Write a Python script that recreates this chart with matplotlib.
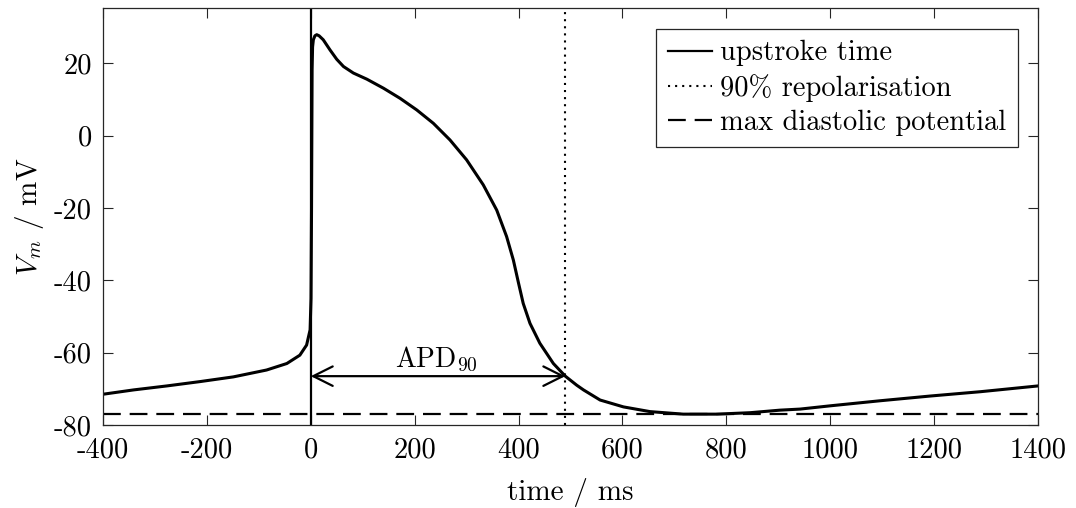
import matplotlib
matplotlib.use("Agg")
import matplotlib.pyplot as plt

plt.rcParams['font.family'] = ['cmr10', 'DejaVu Serif']
plt.rcParams['mathtext.fontset'] = 'cm'
plt.rcParams['axes.unicode_minus'] = False

# membrane potential (ms, mV)
time_ms = [-400, -341, -277, -213, -149, -85, -46, -21, -8, -1.3, 0.5, 1.5,
           2.6, 3.5, 5, 8, 11.5, 16, 24, 37, 50, 63, 82, 108, 140, 172, 204,
           236, 268, 300, 332, 358, 377, 390, 400, 409, 422, 441, 467, 490,
           512, 525, 557, 602, 653, 717, 782, 846, 903, 942, 1000, 1096, 1192,
           1289, 1400]
vm_mV = [-71.5, -70.3, -69.2, -68.0, -66.7, -64.8, -63.0, -60.7, -57.9, -53.7,
         -45.0, -20.0, 18.2, 24.5, 26.5, 27.6, 27.9, 27.6, 26.5, 23.7, 21.1,
         19.1, 17.3, 15.6, 13.1, 10.3, 7.1, 3.4, -1.2, -6.7, -13.6, -20.6,
         -27.9, -34.4, -40.8, -46.4, -51.9, -57.4, -63.0, -66.5, -69.0, -70.3,
         -73.1, -75.0, -76.3, -77.0, -77.0, -76.6, -75.9, -75.6, -74.7, -73.3,
         -72.0, -70.8, -69.2]

upstroke_t = 0
repol90_t = 490
repol90_v = -66.5
mdp_v = -77.0

xticks = [-400, -200, 0, 200, 400, 600, 800, 1000, 1200, 1400]
xtick_labels = ['-400', '-200', '0', '200', '400', '600', '800', '1000', '1200', '1400']
yticks = [-80, -60, -40, -20, 0, 20]
ytick_labels = ['-80', '-60', '-40', '-20', '0', '20']

fig = plt.figure(figsize=(10.76, 5.08), dpi=100)
ax = fig.add_axes([0.0957, 0.1634, 0.8690, 0.8203])

ax.plot(time_ms, vm_mV, color='k', lw=2.2, solid_joinstyle='round')
ax.axvline(upstroke_t, color='k', lw=1.6, label='upstroke time')
ax.axvline(repol90_t, color='k', lw=1.5, linestyle=(0, (1, 2.4)), label='90% repolarisation')
ax.axhline(mdp_v, color='k', lw=1.6, linestyle=(0, (8, 4)), label='max diastolic potential')

ax.annotate('', xy=(upstroke_t, repol90_v), xytext=(repol90_t, repol90_v),
            arrowprops=dict(arrowstyle='<->,head_length=0.7,head_width=0.35',
                            mutation_scale=20, lw=1.6, color='k',
                            shrinkA=0, shrinkB=0))
ax.text((upstroke_t + repol90_t) / 2 - 3, repol90_v + 2.4, 'APD$_{90}$',
        ha='center', va='baseline', fontsize=20)

ax.set_xlim(-400, 1400)
ax.set_ylim(-80, 35.2)
ax.set_xticks(xticks)
ax.set_xticklabels(xtick_labels)
ax.set_yticks(yticks)
ax.set_yticklabels(ytick_labels)
ax.tick_params(direction='in', length=7, width=0.8, color='#262626',
               labelsize=20.5, top=True, right=True)
ax.tick_params(axis='x', pad=9)
ax.tick_params(axis='y', pad=8)
for s in ax.spines.values():
    s.set_color('#262626')
    s.set_linewidth(0.9)

ax.set_xlabel('time / ms', fontsize=21, labelpad=10)
ax.set_ylabel('$V_m$ / mV', fontsize=21, labelpad=6)

leg = ax.legend(loc='upper right', fontsize=20.5, handlelength=1.55, handletextpad=0.28,
                borderpad=0.4, labelspacing=0.26, fancybox=False, framealpha=1,
                borderaxespad=0.72)
leg.get_frame().set_edgecolor('#262626')
leg.get_frame().set_linewidth(0.9)

fig.savefig('out.png', dpi=100)
